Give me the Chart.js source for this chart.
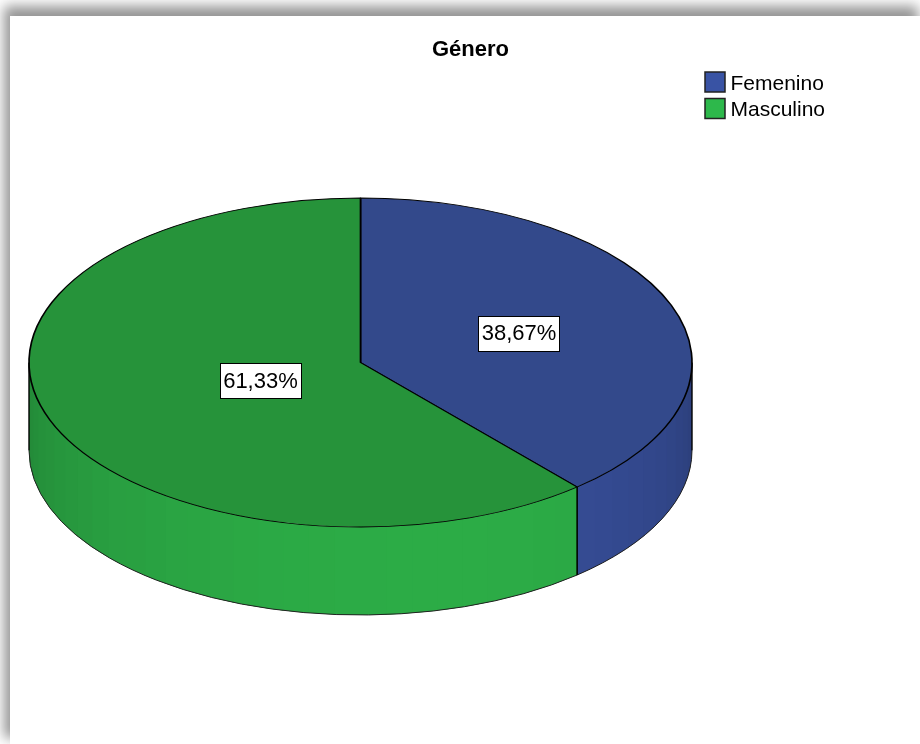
<!DOCTYPE html>
<html>
<head>
<meta charset="utf-8">
<script src="https://cdn.jsdelivr.net/npm/chart.js@4.4.1/dist/chart.umd.min.js"></script>
<style>
  html, body { margin: 0; padding: 0; background: #fff; overflow: hidden; }
  #frame {
    position: absolute; left: 10px; top: 16px; width: 910px; height: 728px;
    background: #fff; box-shadow: -4px -8px 12px 2px rgba(0, 0, 0, 0.42);
  }
  #chart { position: absolute; left: 0; top: 0; }
</style>
</head>
<body>
<div id="frame"><canvas id="chart" width="910" height="728"></canvas></div>
<script>
const categories = ["Femenino", "Masculino"];
const percentages = [38.67, 61.33];

const topColors = ["#33498b", "#26933a"];
const sidePeaks = [[54, 77, 150], [44, 172, 70]];
const legendColors = ["#3953a4", "#2db84b"];
const labelRadius = [0.51, 0.322];

const FONT = "'Liberation Sans', Arial, sans-serif";
const center = { x: 350.5, y: 346.5 };
const squash = 164.5 / 331.5;
const depth = 88;

// lighter near the front, darker towards the silhouette
function shade(a) {
  const peak = 1.3;
  if (a >= peak) return 1 - 0.22 * Math.pow((a - peak) / (Math.PI - peak), 2);
  return 1 - 0.2 * Math.pow((peak - a) / peak, 2);
}

function sideColor(rgb, a) {
  const f = shade(a);
  return "rgb(" + rgb.map(v => Math.round(v * f)).join(",") + ")";
}

function sidePath(ctx, R, a0, a1) {
  ctx.beginPath();
  ctx.ellipse(center.x, center.y, R, R * squash, 0, a0, a1);
  ctx.ellipse(center.x, center.y + depth, R, R * squash, 0, a1, a0, true);
  ctx.closePath();
}

const pie3d = {
  id: "pie3d",
  beforeDatasetsDraw(chart) {
    const ctx = chart.ctx;
    const arcs = chart.getDatasetMeta(0).data;
    const step = Math.PI / 40;

    arcs.forEach((arc, i) => {
      const R = arc.outerRadius;
      for (let k = -1; k <= 1; k++) {
        const lo = Math.max(arc.startAngle + 2 * Math.PI * k, 0);
        const hi = Math.min(arc.endAngle + 2 * Math.PI * k, Math.PI);
        if (hi <= lo) continue;
        ctx.save();
        sidePath(ctx, R, lo, hi);
        ctx.fillStyle = sideColor(sidePeaks[i], (lo + hi) / 2);
        ctx.fill();
        for (let a0 = Math.floor(lo / step) * step; a0 < hi; a0 += step) {
          const a = Math.max(a0, lo);
          const b = Math.min(a0 + step, hi);
          sidePath(ctx, R, a, Math.min(b + 0.004, hi));
          ctx.fillStyle = sideColor(sidePeaks[i], (a + b) / 2);
          ctx.fill();
        }
        ctx.strokeStyle = "#222";
        ctx.lineWidth = 1;
        ctx.beginPath();
        ctx.ellipse(center.x, center.y + depth, R, R * squash, 0, lo, hi);
        ctx.stroke();
        ctx.strokeStyle = "#000";
        ctx.lineWidth = 1.4;
        [lo, hi].forEach(a => {
          const x = center.x + R * Math.cos(a);
          const y = center.y + R * squash * Math.sin(a);
          ctx.beginPath();
          ctx.moveTo(x, y);
          ctx.lineTo(x, y + depth);
          ctx.stroke();
        });
        ctx.restore();
      }
    });

    // squash the flat pie that Chart.js draws into the top ellipse
    ctx.save();
    ctx.translate(center.x - arcs[0].x, center.y - arcs[0].y * squash);
    ctx.scale(1, squash);
  },
  afterDatasetsDraw(chart) {
    const ctx = chart.ctx;
    ctx.restore();

    const arcs = chart.getDatasetMeta(0).data;
    ctx.save();
    ctx.font = "22px " + FONT;
    ctx.textAlign = "center";
    ctx.textBaseline = "middle";
    arcs.forEach((arc, i) => {
      const mid = (arc.startAngle + arc.endAngle) / 2;
      const r = arc.outerRadius * labelRadius[i];
      const x = center.x + r * Math.cos(mid);
      const y = center.y + r * squash * Math.sin(mid);
      const text = percentages[i].toFixed(2).replace(".", ",") + "%";
      const w = Math.round(ctx.measureText(text).width + 6);
      const h = 35;
      const x0 = Math.round(x - w / 2) + 0.5;
      const y0 = Math.round(y - h / 2) + 0.5;
      ctx.fillStyle = "#fff";
      ctx.fillRect(x0, y0, w, h);
      ctx.strokeStyle = "#000";
      ctx.lineWidth = 1;
      ctx.strokeRect(x0, y0, w, h);
      ctx.fillStyle = "#000";
      ctx.fillText(text, x, y + 0.5);
    });
    ctx.restore();
  }
};

const sideLegend = {
  id: "sideLegend",
  afterDraw(chart) {
    const ctx = chart.ctx;
    ctx.save();
    ctx.font = "21px " + FONT;
    ctx.textBaseline = "middle";
    categories.forEach((name, i) => {
      const y = 56 + i * 26.5;
      ctx.fillStyle = legendColors[i];
      ctx.fillRect(695, y, 20, 20);
      ctx.strokeStyle = "#222";
      ctx.lineWidth = 1.5;
      ctx.strokeRect(695, y, 20, 20);
      ctx.fillStyle = "#000";
      ctx.fillText(name, 720.5, y + 12);
    });
    ctx.restore();
  }
};

new Chart(document.getElementById("chart"), {
  type: "pie",
  data: {
    labels: categories,
    datasets: [{
      data: percentages,
      backgroundColor: topColors,
      borderColor: "#000",
      borderWidth: 1.7,
      radius: 331.5,
      clip: false
    }]
  },
  options: {
    responsive: false,
    animation: false,
    devicePixelRatio: 1,
    events: [],
    layout: { padding: { left: 11 } },
    plugins: {
      legend: { display: false },
      tooltip: { enabled: false },
      title: {
        display: true,
        text: "Género",
        color: "#000",
        font: { family: FONT, size: 22, weight: "bold" },
        padding: { top: 21, bottom: 10 }
      }
    }
  },
  plugins: [pie3d, sideLegend]
});
</script>
</body>
</html>
